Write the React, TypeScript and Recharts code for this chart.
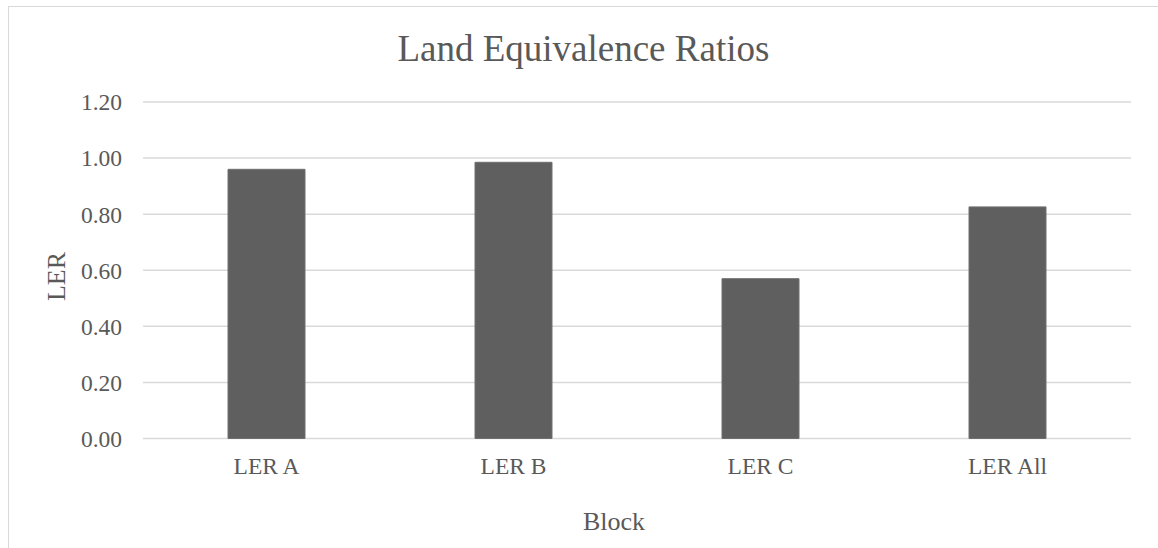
import { BarChart, Bar, CartesianGrid, XAxis, YAxis } from 'recharts'

const blocks = ['LER A', 'LER B', 'LER C', 'LER All']
const lerValues = [0.96, 0.985, 0.57, 0.826]
const yTicks = [0, 0.2, 0.4, 0.6, 0.8, 1.0, 1.2]

const data = blocks.map((name, i) => ({ name, ler: lerValues[i] }))

const font = '"Liberation Serif", "Times New Roman", serif'
const textColor = '#595959'

const App = () => {
  return (
    <div style={{ position: 'absolute', left: 0, top: 0, width: 1158, height: 548, overflow: 'hidden', fontFamily: font }}>
      <div style={{
        position: 'absolute', left: 8, top: 6, width: 1170, height: 560,
        border: '1px solid #d9d9d9', boxSizing: 'border-box',
      }} />
      <div style={{ position: 'absolute', left: 0, top: 0 }}>
        <BarChart width={1158} height={548} data={data}
          margin={{ top: 102, right: 27, bottom: 79.5, left: 83 }}>
          <CartesianGrid vertical={false} stroke="#d9d9d9" strokeWidth={1.5} />
          <XAxis dataKey="name" height={30} axisLine={false} tickLine={false} tickSize={0} tickMargin={19}
            tick={{ fill: textColor, fontSize: 23.5, fontFamily: font }} />
          <YAxis width={60} domain={[0, 1.2]} ticks={yTicks} axisLine={false} tickLine={false}
            tickSize={0} tickMargin={21} tickFormatter={(v: number) => v.toFixed(2)}
            tick={{ fill: textColor, fontSize: 23.5, fontFamily: font }} />
          <Bar dataKey="ler" fill="#5f5f5f" stroke="#707070" strokeWidth={1} barSize={77}
            isAnimationActive={false} />
          <text x={583.4} y={61} textAnchor="middle" fontSize={37} fill={textColor} fontFamily={font}>
            Land Equivalence Ratios
          </text>
          <text x={614} y={530} textAnchor="middle" fontSize={26} fill={textColor} fontFamily={font}>
            Block
          </text>
          <text transform="translate(65,276.5) rotate(-90)" textAnchor="middle" fontSize={26}
            fill={textColor} fontFamily={font}>
            LER
          </text>
        </BarChart>
      </div>
    </div>
  )
}

export default App
